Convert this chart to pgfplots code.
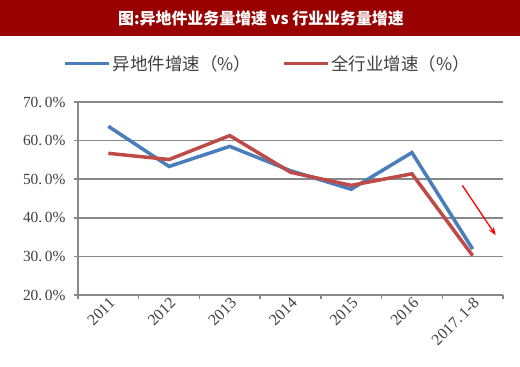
\documentclass[border=0pt]{standalone}
\usepackage{fontspec}
\setmainfont{Liberation Serif}
\newfontfamily\cjk{Noto Sans CJK SC}
\usepackage{pgfplots}
\pgfplotsset{compat=1.18}
\usetikzlibrary{arrows.meta}
\definecolor{titlered}{HTML}{990000}
\definecolor{sblue}{HTML}{4A7EBB}
\definecolor{sred}{HTML}{BE4B48}
\definecolor{gridgray}{HTML}{888888}
\definecolor{txt}{HTML}{404040}
\begin{document}
\begin{tikzpicture}
\path[use as bounding box] (0bp,0bp) rectangle (520bp,367bp);
\fill[white] (0bp,0bp) rectangle (520bp,367bp);
\fill[titlered] (0bp,331bp) rectangle (520bp,367bp);
\node[text=white, font=\cjk\bfseries\fontsize{16}{16}\selectfont] at (261bp,349bp) {图:异地件业务量增速 vs 行业业务量增速};
\begin{axis}[at={(78bp,72bp)}, anchor=south west, scale only axis,
  width=425bp, height=193bp,
  xmin=-0.5, xmax=6.5, ymin=20, ymax=70,
  axis x line*=bottom, axis y line*=left,
  axis line style={gridgray, line width=1.5bp, -},
  xtick={-0.5,0.5,...,6.5}, xticklabels={},
  extra x ticks={0,1,2,3,4,5,6},
  extra x tick labels={2011,2012,2013,2014,2015,2016,2017.\,1-8},
  extra x tick style={major tick length=0pt, grid=none},
  tick align=outside, major tick length=4bp,
  tick style={gridgray, line width=1.5bp},
  x tick label style={rotate=45, anchor=north east, font=\fontsize{16}{16}\selectfont, text=txt, inner sep=1bp},
  ytick={20,30,...,70},
  yticklabels={20.\,0\%,30.\,0\%,40.\,0\%,50.\,0\%,60.\,0\%,70.\,0\%},
  y tick label style={font=\fontsize{15.5}{15.5}\selectfont, text=txt, xshift=-5bp},
  ymajorgrids, grid style={gridgray, line width=1.5bp},
  legend style={at={(-0.042,1.2)}, anchor=west, draw=none, fill=none,
    font=\cjk\fontsize{17.5}{17.5}\selectfont, text=txt,
    /tikz/every even column/.append style={column sep=29bp}},
  legend columns=2, legend cell align=left,
  legend image code/.code={\draw[#1] (0bp,0bp) -- (44bp,0bp);},
  clip=false
]
\addplot[sblue, line width=3.5bp] coordinates {(0,63.7)(1,53.3)(2,58.5)(3,52.2)(4,47.4)(5,56.9)(6,31.9)};
\addlegendentry{异地件增速（\%）}
\addplot[sred, line width=3.5bp] coordinates {(0,56.7)(1,55.1)(2,61.3)(3,51.8)(4,48.4)(5,51.4)(6,30.2)};
\addlegendentry{全行业增速（\%）}
\draw[red, line width=1.3bp, -{Stealth[length=8bp,width=6bp]}] (axis cs:5.83,48.4) -- (axis cs:6.38,35.5);
\end{axis}
\end{tikzpicture}
\end{document}
